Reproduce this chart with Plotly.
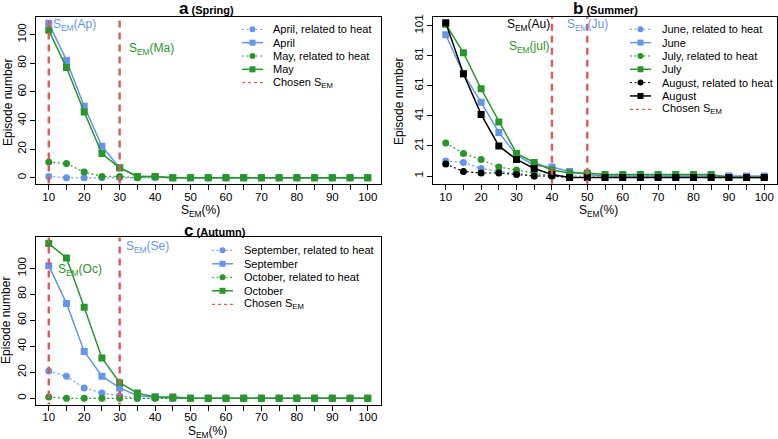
import plotly.graph_objects as go

sem = [10, 15, 20, 25, 30, 35, 40, 45, 50, 55, 60, 65, 70, 75, 80, 85, 90, 95, 100]

# Panel a (Spring)
april_heat = [1, 0, 0, 0, 0, 0, 0, 0, 0, 0, 0, 0, 0, 0, 0, 0, 0, 0, 0]
april = [108, 82, 50, 22, 7, 1, 1, 0, 0, 0, 0, 0, 0, 0, 0, 0, 0, 0, 0]
may_heat = [11, 10, 4, 1, 1, 0, 1, 0, 0, 0, 0, 0, 0, 0, 0, 0, 0, 0, 0]
may = [103, 77, 46, 17, 7, 1, 1, 0, 0, 0, 0, 0, 0, 0, 0, 0, 0, 0, 0]
chosen_a = [10, 30]

# Panel b (Summer)
june_heat = [11, 10, 6, 4, 3, 1, 1, 0, 0, 0, 0, 0, 0, 0, 0, 0, 0, 0, 0]
june = [95, 69, 50, 30, 15, 8, 7, 4, 2, 1, 1, 1, 1, 1, 1, 1, 1, 1, 1]
july_heat = [23, 16, 12, 7, 5, 3, 1, 1, 1, 1, 1, 1, 1, 1, 1, 1, 0, 0, 0]
july = [102, 83, 59, 37, 16, 10, 5, 3, 3, 2, 2, 2, 2, 2, 2, 2, 0, 0, 0]
aug_heat = [9, 4, 3, 3, 2, 1, 1, 0, 0, 0, 0, 0, 0, 0, 0, 0, 0, 0, 0]
august = [103, 69, 42, 21, 12, 6, 2, 0, 0, 0, 0, 0, 0, 0, 0, 0, 0, 0, 0]
chosen_b = [40, 50]

# Panel c (Autumn)
sep_heat = [21, 17, 8, 4, 2, 0, 0, 0, 0, 0, 0, 0, 0, 0, 0, 0, 0, 0, 0]
september = [102, 73, 36, 17, 8, 2, 1, 0, 0, 0, 0, 0, 0, 0, 0, 0, 0, 0, 0]
oct_heat = [1, 0, 0, 0, 0, 0, 0, 0, 0, 0, 0, 0, 0, 0, 0, 0, 0, 0, 0]
october = [119, 108, 70, 31, 12, 4, 1, 1, 0, 0, 0, 0, 0, 0, 0, 0, 0, 0, 0]
chosen_c = [10, 30]

xtick_vals = [10, 20, 30, 40, 50, 60, 70, 80, 90, 100]
ytick_a = [0, 20, 40, 60, 80, 100]
ytick_b = [1, 21, 41, 61, 81, 101]
ytick_c = [0, 20, 40, 60, 80, 100]

BLUE = "#6495ED"
GREEN = "#2A962A"
BLACK = "#000000"
RED = "#DD5A5A"
FONT = "Liberation Sans, Arial, sans-serif"
HEAT_DASH = "2px,2.5px"

W, H = 778, 439


def px_dom_x(a, b):
    return [a / W, b / W]


def px_dom_y(top, bottom):
    return [1 - bottom / H, 1 - top / H]


fig = go.Figure()


def rng(vals):
    lo = min(min(v) for v in vals)
    hi = max(max(v) for v in vals)
    span = hi - lo
    return [lo - 0.04 * span, hi + 0.04 * span]


def add_series(ax, y, name, color, heat):
    fig.add_trace(go.Scatter(
        x=sem, y=y, name=name, mode="lines+markers", showlegend=False,
        line=dict(color=color, width=1.2 if heat else 1.5, dash=HEAT_DASH if heat else "solid"),
        marker=dict(symbol="circle" if heat else "square", size=7, color=color),
        xaxis="x" + ax, yaxis="y" + ax,
    ))


def add_chosen(ax, chosen, yr):
    xs, ys = [], []
    for c in chosen:
        xs += [c, c, None]
        ys += [yr[0] - 50, yr[1] + 50, None]
    fig.add_trace(go.Scatter(
        x=xs, y=ys, mode="lines", name="Chosen S<sub>EM</sub>", showlegend=False,
        line=dict(color=RED, width=2.4, dash="7px,5px"),
        xaxis="x" + ax, yaxis="y" + ax, cliponaxis=True,
    ))


# panel a
yr_a = rng([april, may, april_heat, may_heat])
add_series("", april_heat, "April, related to heat", BLUE, True)
add_series("", april, "April", BLUE, False)
add_series("", may_heat, "May, related to heat", GREEN, True)
add_series("", may, "May", GREEN, False)
add_chosen("", chosen_a, yr_a)

# panel b
yr_b = rng([june, july, august, june_heat, july_heat, aug_heat])
add_series("2", june_heat, "June, related to heat", BLUE, True)
add_series("2", june, "June", BLUE, False)
add_series("2", july_heat, "July, related to heat", GREEN, True)
add_series("2", july, "July", GREEN, False)
add_series("2", aug_heat, "August, related to heat", BLACK, True)
add_series("2", august, "August", BLACK, False)
add_chosen("2", chosen_b, yr_b)

# panel c
yr_c = rng([september, october, sep_heat, oct_heat])
add_series("3", sep_heat, "September, related to heat", BLUE, True)
add_series("3", september, "September", BLUE, False)
add_series("3", oct_heat, "October, related to heat", GREEN, True)
add_series("3", october, "October", GREEN, False)
add_chosen("3", chosen_c, yr_c)

axis_common = dict(
    showline=True, linecolor="black", linewidth=1, mirror=True,
    ticks="outside", ticklen=5, tickcolor="black", showgrid=False, zeroline=False,
    automargin=False,
    tickfont=dict(size=11.5, color="black", family=FONT),
)
minor = dict(ticks="outside", dtick=5, tick0=0, ticklen=5, tickcolor="black", showgrid=False)
xr = [sem[0] - 0.04 * (sem[-1] - sem[0]), sem[-1] + 0.04 * (sem[-1] - sem[0])]
xextra = dict(range=xr, tickvals=xtick_vals, minor=minor, ticklabelstandoff=-3)
yextra = dict(tickangle=-90, ticklabelstandoff=-1)

fig.update_layout(
    width=W, height=H, margin=dict(l=0, r=0, t=0, b=0, autoexpand=False),
    plot_bgcolor="white", paper_bgcolor="white",
    font=dict(family=FONT, color="black"),
    showlegend=False,
    xaxis=dict(domain=px_dom_x(36, 380.5), anchor="y", **xextra, **axis_common),
    yaxis=dict(domain=px_dom_y(17, 184), range=yr_a, tickvals=ytick_a,
               anchor="x", **yextra, **axis_common),
    xaxis2=dict(domain=px_dom_x(433, 777), anchor="y2", **xextra, **axis_common),
    yaxis2=dict(domain=px_dom_y(16.5, 183.7), range=yr_b, tickvals=ytick_b,
                anchor="x2", **yextra, **axis_common),
    xaxis3=dict(domain=px_dom_x(36, 380.5), anchor="y3", **xextra, **axis_common),
    yaxis3=dict(domain=px_dom_y(237.4, 404.5), range=yr_c, tickvals=ytick_c,
                anchor="x3", **yextra, **axis_common),
)


def paper_text(xp, yp, text, size=11.5, anchor="center", angle=0, color="black"):
    fig.add_annotation(
        x=xp / W, y=1 - yp / H, xref="paper", yref="paper", showarrow=False,
        text=text, xanchor=anchor, yanchor="middle", textangle=angle,
        font=dict(size=size, family=FONT, color=color),
    )


# panel titles
def title(letter, sub, xc, yc):
    paper_text(xc, yc, f"<b><span style='font-size:17px'>{letter}</span> ({sub})</b>", size=11)


title("a", "Spring", 206, 9)
title("b", "Summer", 605, 9)
title("c", "Autumn", 215, 230)

# axis titles
XT = "S<sub>EM</sub>(%)"
YT = "Episode number"
paper_text(200, 211, XT, size=12)
paper_text(598, 211, XT, size=12)
paper_text(207, 432, XT, size=12)
paper_text(8, 103, YT, size=12, angle=-90)
paper_text(399, 102, YT, size=12, angle=-90)
paper_text(6, 321, YT, size=12, angle=-90)


# manual legends (R style: compact rows)
def legend(x_sym, x_text, y0, dy, entries):
    for i, (label, color, kind) in enumerate(entries):
        yp = 1 - (y0 + i * dy) / H
        if kind == "chosen":
            dash, width = "3px,3px", 1.2
        elif kind == "heat":
            dash, width = HEAT_DASH, 1.0
        else:
            dash, width = "solid", 1.5
        fig.add_shape(type="line", xref="paper", yref="paper",
                      x0=x_sym / W, x1=(x_sym + 21) / W, y0=yp, y1=yp,
                      line=dict(color=color, width=width, dash=dash))
        if kind != "chosen":
            fig.add_shape(type="circle" if kind == "heat" else "rect",
                          xref="paper", yref="paper", xsizemode="pixel", ysizemode="pixel",
                          xanchor=(x_sym + 10.5) / W, yanchor=yp,
                          x0=-3, x1=3, y0=-3, y1=3,
                          line=dict(width=0), fillcolor=color)
        paper_text(x_text, y0 + i * dy, label, size=11, anchor="left")


CH = "Chosen S<sub>EM</sub>"
legend(242, 271, 29.3, 13.35, [
    ("April, related to heat", BLUE, "heat"),
    ("April", BLUE, "main"),
    ("May, related to heat", GREEN, "heat"),
    ("May", GREEN, "main"),
    (CH, RED, "chosen"),
])
legend(630, 660, 29.3, 13.33, [
    ("June, related to heat", BLUE, "heat"),
    ("June", BLUE, "main"),
    ("July, related to heat", GREEN, "heat"),
    ("July", GREEN, "main"),
    ("August, related to heat", BLACK, "heat"),
    ("August", BLACK, "main"),
    (CH, RED, "chosen"),
])
legend(212, 242, 250.3, 13.5, [
    ("September, related to heat", BLUE, "heat"),
    ("September", BLUE, "main"),
    ("October, related to heat", GREEN, "heat"),
    ("October", GREEN, "main"),
    (CH, RED, "chosen"),
])


def lab(ax, x, y, text, color, anchor, shift):
    fig.add_annotation(x=x, y=y, xref="x" + ax, yref="y" + ax, text=text, showarrow=False,
                       xanchor=anchor, xshift=shift, font=dict(size=12, family=FONT, color=color))


lab("", chosen_a[0], 107, "S<sub>EM</sub>(Ap)", BLUE, "left", 2)
lab("", chosen_a[1], 90, "S<sub>EM</sub>(Ma)", GREEN, "left", 7)
lab("2", chosen_b[0], 101.5, "S<sub>EM</sub>(Au)", BLACK, "right", 0)
lab("2", chosen_b[0], 86.5, "S<sub>EM</sub>(jul)", GREEN, "right", 0)
lab("2", chosen_b[1], 101.5, "S<sub>EM</sub>(Ju)", BLUE, "center", 0)
lab("3", chosen_c[1], 116.5, "S<sub>EM</sub>(Se)", BLUE, "left", 4)
lab("3", chosen_c[0], 99, "S<sub>EM</sub>(Oc)", GREEN, "left", 7)

fig.write_html(
    "out.html",
    config={"displayModeBar": False},
    post_script="document.body.style.margin='0px';document.body.style.overflow='hidden';",
)
